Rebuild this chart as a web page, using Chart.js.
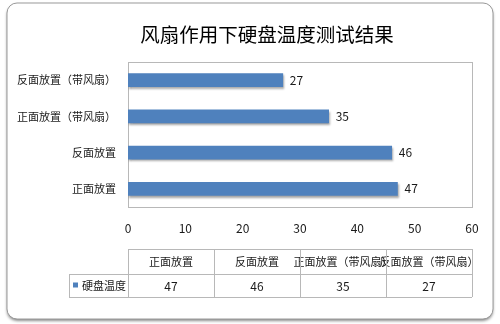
<!DOCTYPE html>
<html><head><meta charset="utf-8">
<script src="https://cdn.jsdelivr.net/npm/chart.js@4/dist/chart.umd.min.js"></script>
<style>html,body{margin:0;padding:0;background:#fff;}canvas{display:block}</style>
</head><body>
<canvas id="c" width="500" height="324"></canvas>
<script>
const titleText = '风扇作用下硬盘温度测试结果';
const categories = ['正面放置', '反面放置', '正面放置（带风扇）', '反面放置（带风扇）'];
const seriesName = '硬盘温度';
const values = [47, 46, 35, 27];
const xMin = 0, xMax = 60, xStep = 10;

const FONT = "'Noto Sans CJK SC', 'Noto Sans', sans-serif";
const BAR = '#4F81BD';
const TEXT = '#1a1a1a';
const LINE = '#b8b8b8';

const cardPlugin = {
  id: 'card',
  beforeDraw(chart) {
    const ctx = chart.ctx;
    ctx.save();
    ctx.fillStyle = '#fff';
    ctx.fillRect(0, 0, chart.width, chart.height);
    const x = 7, y = 3, w = chart.width - 14, h = chart.height - 8, r = 10;
    ctx.beginPath();
    ctx.roundRect(x, y, w, h, r);
    ctx.shadowColor = 'rgba(0,0,0,0.45)';
    ctx.shadowBlur = 3;
    ctx.shadowOffsetX = 0;
    ctx.shadowOffsetY = 2;
    ctx.fillStyle = '#fff';
    ctx.fill();
    ctx.shadowColor = 'transparent';
    ctx.lineWidth = 1;
    ctx.strokeStyle = '#9a9a9a';
    ctx.stroke();
    // plot area border
    const a = chart.chartArea;
    ctx.strokeStyle = LINE;
    ctx.strokeRect(Math.round(a.left) + 0.5, Math.round(a.top) + 0.5, Math.round(a.right - a.left), Math.round(a.bottom - a.top));
    // title
    ctx.font = '19.5px ' + FONT;
    ctx.fillStyle = '#000';
    ctx.textAlign = 'center';
    ctx.textBaseline = 'middle';
    ctx.fillText(titleText, 267, 35);
    ctx.restore();
  },
  beforeDatasetDraw(chart) {
    const ctx = chart.ctx;
    ctx.save();
    ctx.shadowColor = 'rgba(0,0,0,0.35)';
    ctx.shadowBlur = 2;
    ctx.shadowOffsetX = 1;
    ctx.shadowOffsetY = 2;
  },
  afterDatasetDraw(chart) {
    chart.ctx.restore();
  },
  afterDatasetsDraw(chart) {
    const ctx = chart.ctx;
    const meta = chart.getDatasetMeta(0);
    ctx.save();
    ctx.font = '12px ' + FONT;
    ctx.fillStyle = TEXT;
    ctx.textAlign = 'left';
    ctx.textBaseline = 'middle';
    meta.data.forEach((el, i) => {
      ctx.fillText(String(chart.data.datasets[0].data[i]), el.x + 7, el.y);
    });
    ctx.restore();
  },
  afterDraw(chart) {
    // data table
    const ctx = chart.ctx;
    const a = chart.chartArea;
    const L = Math.round(a.left), R = Math.round(a.right);
    const n = categories.length;
    const colW = (R - L) / n;
    const hTop = Math.round(a.bottom) + 42, hBot = hTop + 25, dBot = hBot + 23;
    const legL = L - 59;
    ctx.save();
    ctx.font = '11px ' + FONT;
    ctx.fillStyle = TEXT;
    ctx.textAlign = 'center';
    ctx.textBaseline = 'middle';
    for (let i = 0; i < n; i++) {
      const cx0 = L + i * colW;
      ctx.fillStyle = '#fff';
      ctx.fillRect(cx0 + 1, hTop + 1, colW - 1, hBot - hTop - 1);
      ctx.fillStyle = TEXT;
      ctx.fillText(categories[i], cx0 + colW / 2, (hTop + hBot) / 2 + 0.5);
      ctx.font = '12px ' + FONT;
      ctx.fillText(String(values[i]), cx0 + colW / 2, (hBot + dBot) / 2 + 0.5);
      ctx.font = '11px ' + FONT;
    }
    // legend cell
    ctx.fillStyle = BAR;
    ctx.fillRect(legL + 4, (hBot + dBot) / 2 - 3, 5, 5);
    ctx.fillStyle = TEXT;
    ctx.textAlign = 'left';
    ctx.fillText(seriesName, legL + 13, (hBot + dBot) / 2 + 0.5);
    // grid lines
    ctx.strokeStyle = LINE;
    ctx.lineWidth = 1;
    ctx.beginPath();
    ctx.moveTo(L, hTop + 0.5); ctx.lineTo(R, hTop + 0.5);
    ctx.moveTo(legL, hBot + 0.5); ctx.lineTo(R, hBot + 0.5);
    ctx.moveTo(legL, dBot + 0.5); ctx.lineTo(R, dBot + 0.5);
    ctx.moveTo(legL + 0.5, hBot); ctx.lineTo(legL + 0.5, dBot);
    for (let i = 0; i <= n; i++) {
      const x = Math.round(L + i * colW) + 0.5;
      ctx.moveTo(x, hTop); ctx.lineTo(x, dBot);
    }
    ctx.stroke();
    ctx.restore();
  }
};

new Chart(document.getElementById('c'), {
  type: 'bar',
  data: {
    labels: categories,
    datasets: [{
      label: seriesName,
      data: values,
      backgroundColor: BAR,
      borderWidth: 0,
      barThickness: 13
    }]
  },
  options: {
    indexAxis: 'y',
    responsive: false,
    devicePixelRatio: 1,
    animation: false,
    layout: { padding: { left: 0, right: 28, top: 62, bottom: 77 } },
    plugins: {
      legend: { display: false },
      tooltip: { enabled: false },
      title: { display: false }
    },
    scales: {
      x: {
        min: xMin, max: xMax,
        ticks: { stepSize: xStep, padding: 14, color: TEXT, font: { family: FONT, size: 12 } },
        grid: { display: false, drawTicks: false },
        border: { display: false },
        afterFit(s) { s.height = 40; }
      },
      y: {
        reverse: true,
        ticks: { padding: 12, color: TEXT, font: { family: FONT, size: 11 } },
        grid: { display: false, drawTicks: false },
        border: { display: false },
        afterFit(s) { s.width = 128; }
      }
    }
  },
  plugins: [cardPlugin]
});
</script>
</body></html>
